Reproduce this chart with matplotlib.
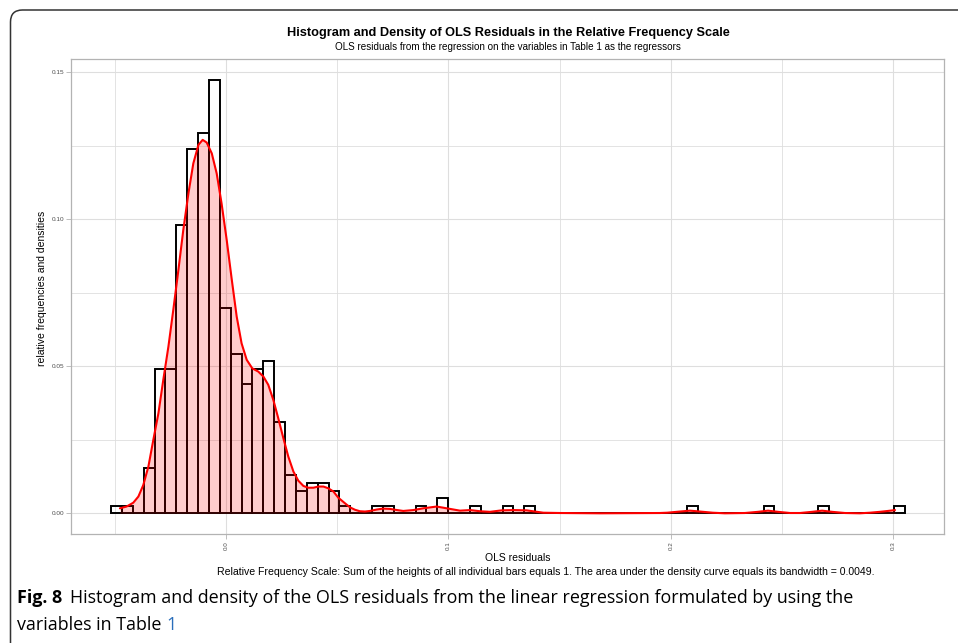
import matplotlib
matplotlib.use("Agg")
import matplotlib.pyplot as plt
import numpy as np
from matplotlib.path import Path
from matplotlib.patches import PathPatch

# ---------------- data ----------------
bin_start = -0.0517
bin_width = 0.00489
bin_counts = [1, 1, 0, 6, 19, 19, 38, 48, 50, 57,
              27, 21, 17, 19, 20, 12, 5, 3, 4, 4,
              3, 1, 0, 0, 1, 1, 0, 0, 1, 0,
              2, 0, 0, 1, 0, 0, 1, 0, 1, 0,
              0, 0, 0, 0, 0, 0, 0, 0, 0, 0,
              0, 0, 0, 1, 0, 0, 0, 0, 0, 0,
              1, 0, 0, 0, 0, 1, 0, 0, 0, 0,
              0, 0, 1]

dens_x = [-0.0477, -0.0447, -0.0417, -0.0394, -0.0372, -0.0349, -0.0327, -0.0304,
          -0.0282, -0.0259, -0.0237, -0.0214, -0.0192, -0.0169, -0.0147, -0.0124,
          -0.0105, -0.0087, -0.0064, -0.0042, -0.0020, 0.0003, 0.0026, 0.0048,
          0.0070, 0.0093, 0.0118, 0.0145, 0.0168, 0.0190, 0.0213, 0.0235,
          0.0258, 0.0280, 0.0303, 0.0325, 0.0348, 0.0370, 0.0393, 0.0415,
          0.0438, 0.0460, 0.0483, 0.0505, 0.0535, 0.0558, 0.0580, 0.0602,
          0.0625, 0.0647, 0.0679, 0.0706, 0.0737, 0.0769, 0.0797, 0.0842,
          0.0887, 0.0947, 0.0992, 0.1052, 0.1097, 0.1142, 0.1187, 0.1239,
          0.1292, 0.1352, 0.1389, 0.1427, 0.1502, 0.1681, 0.1951, 0.1983,
          0.2041, 0.2086, 0.2131, 0.2189, 0.2243, 0.2333, 0.2392, 0.2437,
          0.2482, 0.2536, 0.2581, 0.2635, 0.2680, 0.2725, 0.2783, 0.2850,
          0.2895, 0.2940, 0.2976, 0.3008]
dens_y = [0.0017, 0.0023, 0.0036, 0.0057, 0.0096, 0.0159, 0.0249, 0.0340,
          0.0454, 0.0567, 0.0692, 0.0828, 0.0964, 0.1088, 0.1190, 0.1253,
          0.1270, 0.1261, 0.1224, 0.1156, 0.1054, 0.0930, 0.0794, 0.0669,
          0.0578, 0.0522, 0.0493, 0.0482, 0.0465, 0.0437, 0.0385, 0.0323,
          0.0255, 0.0193, 0.0142, 0.0111, 0.0093, 0.0087, 0.0087, 0.0091,
          0.0091, 0.0085, 0.0074, 0.0053, 0.0034, 0.0020, 0.0012, 0.0007,
          0.0006, 0.0008, 0.0013, 0.0016, 0.0015, 0.0011, 0.0008, 0.0011,
          0.0017, 0.0023, 0.0017, 0.0009, 0.0011, 0.0007, 0.0005, 0.0010,
          0.0011, 0.0010, 0.0006, 0.0002, 0.0001, 0.0000, 0.0001, 0.0002,
          0.0006, 0.0009, 0.0006, 0.0002, 0.0000, 0.0001, 0.0005, 0.0009,
          0.0005, 0.0001, 0.0001, 0.0005, 0.0009, 0.0005, 0.0001, 0.0000,
          0.0002, 0.0005, 0.0008, 0.0011]

x_ticks = [0.0, 0.1, 0.2, 0.3]
x_tick_labels = ["0.0", "0.1", "0.2", "0.3"]
x_minor = [-0.05, 0.05, 0.15, 0.25]
y_ticks = [0.00, 0.05, 0.10, 0.15]
y_tick_labels = ["0.00", "0.05", "0.10", "0.15"]
y_minor = [0.025, 0.075, 0.125]

title = "Histogram and Density of OLS Residuals in the Relative Frequency Scale"
subtitle = "OLS residuals from the regression on the variables in Table 1 as the regressors"
x_label = "OLS residuals"
y_label = "relative frequencies and densities"
plot_caption = ("Relative Frequency Scale: Sum of the heights of all individual bars equals 1. "
                "The area under the density curve equals its bandwidth = 0.0049.")
fig_label = "Fig. 8"
fig_caption_1 = "Histogram and density of the OLS residuals from the linear regression formulated by using the"
fig_caption_2 = "variables in Table "
fig_caption_ref = "1"

# ---------------- drawing ----------------
plt.rcParams['font.family'] = ['Liberation Sans', 'DejaVu Sans']
W, H = 958, 643
fig = plt.figure(figsize=(W / 100, H / 100), dpi=100)

L, R, T, B = 71, 943.5, 59, 534.3
ax = fig.add_axes([L / W, 1 - B / H, (R - L) / W, (B - T) / H])

counts = np.array(bin_counts, dtype=float)
rel = counts / counts.sum()
lefts = bin_start + bin_width * np.arange(len(counts))

ax.bar(lefts, rel, width=bin_width, align='edge', fill=False,
       edgecolor='black', linewidth=1.4, zorder=2)
ax.fill_between(dens_x, dens_y, 0, color='red', alpha=0.2, linewidth=0, zorder=3)
ax.plot(dens_x, dens_y, color='red', lw=1.5, zorder=4, solid_capstyle='round')

ax.set_xlim(-0.0697, 0.3226)
ax.set_ylim(-0.00714, 0.1545)

ax.set_xticks(x_ticks)
ax.set_xticklabels(x_tick_labels, rotation=90, fontsize=4.5, color='#4D4D4D')
ax.set_xticks(x_minor, minor=True)
ax.set_yticks(y_ticks)
ax.set_yticklabels(y_tick_labels, fontsize=4.6, color='#4D4D4D')
ax.set_yticks(y_minor, minor=True)
ax.tick_params(axis='both', which='major', length=3.6, width=0.6, color='#B3B3B3', pad=1.2)
ax.tick_params(axis='both', which='minor', length=0)
ax.grid(True, which='major', color='#DEDEDE', lw=0.8, zorder=0)
ax.grid(True, which='minor', color='#DEDEDE', lw=0.6, zorder=0)
ax.set_axisbelow(True)
for s in ax.spines.values():
    s.set_color('#B3B3B3')
    s.set_linewidth(0.9)

fig.text(508 / W, 1 - 33 / H, title, ha='center', va='center',
         fontsize=9.2, fontweight='bold')
fig.text(508 / W, 1 - 47 / H, subtitle, ha='center', va='center',
         fontsize=7.1)
fig.text(485 / W, 1 - 558 / H, x_label, ha='left', va='center', fontsize=7.5)
fig.text(42 / W, 1 - 288 / H, y_label, ha='center', va='center',
         rotation=90, fontsize=7.5)
fig.text(217 / W, 1 - 572 / H, plot_caption, ha='left', va='center', fontsize=7.6)

# journal figure frame (rounded top-left corner)
ov = fig.add_axes([0, 0, 1, 1], zorder=10)
ov.set_xlim(0, W)
ov.set_ylim(H, 0)
ov.axis('off')
ov.patch.set_alpha(0)
r = 12
verts = [(10.5, H + 20), (10.5, 10 + r), (10.5, 10), (10.5 + r, 10), (W + 20, 10)]
codes = [Path.MOVETO, Path.LINETO, Path.CURVE3, Path.CURVE3, Path.LINETO]
ov.add_patch(PathPatch(Path(verts, codes), fill=False, edgecolor='#333333', lw=1.1))

# figure caption below the chart
cap_font = ['Open Sans', 'DejaVu Sans']
cap_size = 12.9
fig.canvas.draw()
rend = fig.canvas.get_renderer()
t1 = ov.text(17, 598, fig_label, fontsize=cap_size, fontweight='bold', family=cap_font,
             va='center', ha='left')
bb = t1.get_window_extent(rend)
ov.text(bb.x1 + 8, 598, fig_caption_1, fontsize=cap_size, family=cap_font,
        va='center', ha='left')
t3 = ov.text(17, 625, fig_caption_2, fontsize=cap_size, family=cap_font, va='center', ha='left')
bb3 = t3.get_window_extent(rend)
ov.text(bb3.x1, 625, fig_caption_ref, fontsize=cap_size, family=cap_font, va='center',
        ha='left', color='#2A6EBB')

fig.savefig("out.png", dpi=100)
